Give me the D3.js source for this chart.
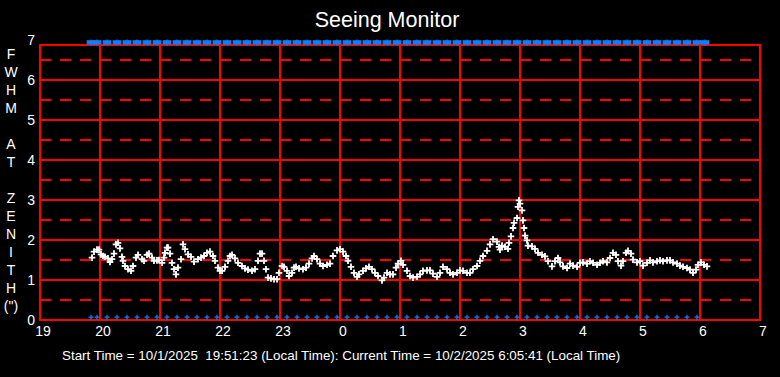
<!DOCTYPE html>
<html>
<head>
<meta charset="utf-8">
<script src="https://cdn.jsdelivr.net/npm/d3@7"></script>
<style>
  html, body { margin: 0; padding: 0; background: #000; }
  svg { display: block; }
  text { font-family: "Liberation Sans", Arial, sans-serif; fill: #fff; }
</style>
</head>
<body>
<svg id="chart"></svg>
<script>
// minutes after 19:00 local time, and FWHM at zenith (arcsec)
const minutes = [
  52, 54, 57, 59, 61, 63, 65, 68, 70, 72, 74, 76, 78, 80, 82, 83, 85, 88, 91, 93,
  96, 98, 102, 104, 107, 109, 112, 114, 117, 119, 122, 124, 125, 127, 128, 130, 132, 134, 136, 138,
  141, 143, 145, 148, 151, 154, 158, 161, 164, 167, 170, 173, 175, 178, 180, 182, 185, 188, 190, 192,
  195, 198, 202, 205, 208, 212, 215, 218, 220, 222, 224, 226, 228, 231, 234, 237, 239, 242, 244, 247,
  249, 252, 254, 256, 259, 263, 266, 269, 272, 274, 277, 280, 283, 287, 290, 293, 297, 300, 303, 306,
  308, 311, 314, 317, 319, 323, 326, 329, 332, 335, 338, 342, 344, 347, 350, 353, 356, 358, 361, 363,
  367, 370, 373, 377, 380, 383, 387, 390, 393, 397, 400, 403, 407, 410, 413, 417, 420, 423, 427, 430,
  433, 437, 440, 443, 447, 450, 453, 457, 459, 460, 462, 465, 468, 469, 471, 473, 474, 477, 478, 479,
  480, 482, 483, 484, 485, 487, 488, 492, 495, 498, 502, 505, 508, 512, 515, 518, 520, 523, 527, 530,
  533, 537, 540, 543, 547, 550, 553, 557, 560, 563, 567, 570, 573, 576, 578, 581, 583, 586, 588, 591,
  593, 597, 600, 603, 607, 610, 613, 617, 620, 623, 627, 630, 633, 637, 640, 643, 647, 650, 653, 656,
  658, 661, 664, 667
];
const fwhm = [
  1.56, 1.71, 1.76, 1.76, 1.64, 1.60, 1.58, 1.54, 1.45, 1.52, 1.66, 1.89, 1.93, 1.79, 1.58, 1.48, 1.35, 1.27, 1.23, 1.35,
  1.56, 1.63, 1.52, 1.48, 1.63, 1.66, 1.56, 1.48, 1.49, 1.50, 1.43, 1.56, 1.68, 1.81, 1.81, 1.66, 1.43, 1.27, 1.14, 1.31,
  1.52, 1.89, 1.77, 1.64, 1.58, 1.46, 1.52, 1.56, 1.60, 1.68, 1.71, 1.60, 1.48, 1.31, 1.23, 1.23, 1.33, 1.48, 1.60, 1.63,
  1.54, 1.43, 1.35, 1.29, 1.26, 1.23, 1.27, 1.48, 1.66, 1.66, 1.48, 1.27, 1.06, 1.04, 1.02, 1.02, 1.18, 1.35, 1.33, 1.23,
  1.10, 1.18, 1.31, 1.33, 1.29, 1.27, 1.31, 1.41, 1.54, 1.60, 1.52, 1.41, 1.35, 1.38, 1.41, 1.60, 1.74, 1.77, 1.71, 1.60,
  1.48, 1.33, 1.18, 1.08, 1.14, 1.23, 1.29, 1.33, 1.27, 1.18, 1.10, 0.99, 1.06, 1.18, 1.14, 1.14, 1.31, 1.41, 1.48, 1.38,
  1.23, 1.10, 1.06, 1.08, 1.14, 1.23, 1.24, 1.24, 1.16, 1.08, 1.18, 1.33, 1.27, 1.18, 1.14, 1.18, 1.24, 1.23, 1.18, 1.18,
  1.27, 1.35, 1.48, 1.60, 1.73, 1.89, 2.02, 1.96, 1.83, 1.76, 1.86, 1.83, 1.78, 1.93, 2.09, 2.30, 2.43, 2.55, 2.83, 2.99,
  2.91, 2.74, 2.49, 2.30, 2.11, 1.99, 1.86, 1.84, 1.78, 1.68, 1.63, 1.59, 1.47, 1.34, 1.47, 1.55, 1.44, 1.34, 1.30, 1.41,
  1.36, 1.33, 1.43, 1.44, 1.41, 1.47, 1.43, 1.38, 1.43, 1.47, 1.44, 1.55, 1.68, 1.63, 1.47, 1.36, 1.47, 1.68, 1.73, 1.66,
  1.51, 1.44, 1.47, 1.36, 1.43, 1.49, 1.44, 1.47, 1.49, 1.47, 1.49, 1.49, 1.44, 1.41, 1.36, 1.33, 1.30, 1.26, 1.18, 1.26,
  1.38, 1.44, 1.38, 1.34
];

// blue status markers along the bottom and top edges (minutes after 19:00)
const lowTimes = [
  51, 57, 67, 77, 87, 97, 107, 117, 127, 137, 147, 157, 167, 177, 187, 197, 207, 217, 227, 237,
  247, 257, 267, 277, 287, 297, 307, 317, 327, 337, 347, 357, 367, 377, 387, 397, 407, 417, 427, 437,
  447, 457, 467, 477, 487, 497, 507, 517, 527, 537, 547, 557, 567, 577, 587, 597, 607, 617, 627, 637,
  647, 657
];
const highTimes = [
  51, 57, 67, 77, 87, 97, 107, 117, 127, 137, 147, 157, 167, 177, 187, 197, 207, 217, 227, 237,
  247, 257, 267, 277, 287, 297, 307, 317, 327, 337, 347, 357, 367, 377, 387, 397, 407, 417, 427, 437,
  447, 457, 467, 477, 487, 497, 507, 517, 527, 537, 547, 557, 567, 577, 587, 597, 607, 617, 627, 637,
  647, 657, 665
];

const hourLabels = ["19", "20", "21", "22", "23", "0", "1", "2", "3", "4", "5", "6", "7"];
const yTicks = [0, 1, 2, 3, 4, 5, 6, 7];
const yTitle = ["F", "W", "H", "M", "", "A", "T", "", "Z", "E", "N", "I", "T", "H", "(\")"];
const footer = "Start Time = 10/1/2025  19:51:23 (Local Time): Current Time = 10/2/2025 6:05:41 (Local Time)";

const W = 780, H = 377;
const svg = d3.select("#chart").attr("width", W).attr("height", H);
svg.append("rect").attr("width", W).attr("height", H).attr("fill", "#000");

const x = d3.scaleLinear().domain([0, 720]).range([40, 760]);
const y = d3.scaleLinear().domain([0, 7]).range([320, 40]);
const frameTop = 45;
const red = "#ff0000";
const blue = "#0a80ff";

// grid: solid at whole units, dashed at halves
const grid = svg.append("g").attr("shape-rendering", "crispEdges");
grid.append("g").selectAll("line")
  .data(d3.range(1, 7))
  .join("line")
  .attr("x1", x(0)).attr("x2", x(720))
  .attr("y1", d => y(d)).attr("y2", d => y(d))
  .attr("stroke", red).attr("stroke-width", 2);

grid.append("g").selectAll("line")
  .data(d3.range(0.5, 7, 1))
  .join("line")
  .attr("x1", x(0)).attr("x2", x(720))
  .attr("y1", d => y(d)).attr("y2", d => y(d))
  .attr("stroke", red).attr("stroke-width", 2)
  .attr("stroke-dasharray", "11,9");

grid.append("g").selectAll("line")
  .data(hourLabels.slice(1, -1).map((d, i) => (i + 1) * 60))
  .join("line")
  .attr("x1", d => x(d)).attr("x2", d => x(d))
  .attr("y1", frameTop).attr("y2", y(0))
  .attr("stroke", red).attr("stroke-width", 2);

grid.append("rect")
  .attr("x", x(0)).attr("y", frameTop)
  .attr("width", x(720) - x(0)).attr("height", y(0) - frameTop)
  .attr("fill", "none").attr("stroke", red).attr("stroke-width", 2);

// plus marker path
function plus(cx, cy, r) {
  return `M${cx - r},${cy}H${cx + r}M${cx},${cy - r}V${cy + r}`;
}

// bottom status markers
svg.append("g").selectAll("path")
  .data(lowTimes)
  .join("path")
  .attr("d", d => plus(x(d), y(0.07), 2.5))
  .attr("stroke", blue).attr("stroke-width", 1.3).attr("fill", "none");

// top status markers
const topRow = svg.append("g");
topRow.selectAll("rect")
  .data(highTimes)
  .join("rect")
  .attr("x", d => x(d) - 4.3).attr("y", y(6.94) - 2.2)
  .attr("width", 8.6).attr("height", 4.4)
  .attr("fill", blue);
topRow.selectAll("path")
  .data(highTimes)
  .join("path")
  .attr("d", d => plus(x(d), y(6.94), 3))
  .attr("stroke", blue).attr("stroke-width", 1.3);

// FWHM points
svg.append("g").selectAll("path")
  .data(minutes.map((m, i) => [m, fwhm[i]]))
  .join("path")
  .attr("d", d => plus(x(d[0]), y(d[1]), 3.3))
  .attr("stroke", "#fff").attr("stroke-width", 1.8).attr("fill", "none");

// axis labels
svg.append("g").selectAll("text")
  .data(yTicks)
  .join("text")
  .attr("x", 35).attr("y", d => y(d))
  .attr("text-anchor", "end").attr("dominant-baseline", "central")
  .attr("font-size", 14)
  .text(d => d);

svg.append("g").selectAll("text")
  .data(hourLabels)
  .join("text")
  .attr("x", (d, i) => x(i * 60) + 3).attr("y", 331)
  .attr("text-anchor", "middle").attr("dominant-baseline", "central")
  .attr("font-size", 14)
  .text(d => d);

svg.append("g").selectAll("text")
  .data(yTitle)
  .join("text")
  .attr("x", 11).attr("y", (d, i) => 53.5 + i * 18)
  .attr("text-anchor", "middle").attr("dominant-baseline", "central")
  .attr("font-size", 14)
  .text(d => d);

svg.append("text")
  .attr("x", 387).attr("y", 20)
  .attr("text-anchor", "middle").attr("dominant-baseline", "central")
  .attr("font-size", 21.5)
  .text("Seeing Monitor");

svg.append("text")
  .attr("x", 62).attr("y", 355)
  .attr("dominant-baseline", "central")
  .attr("font-size", 13.4)
  .style("white-space", "pre")
  .text(footer);
</script>
</body>
</html>
